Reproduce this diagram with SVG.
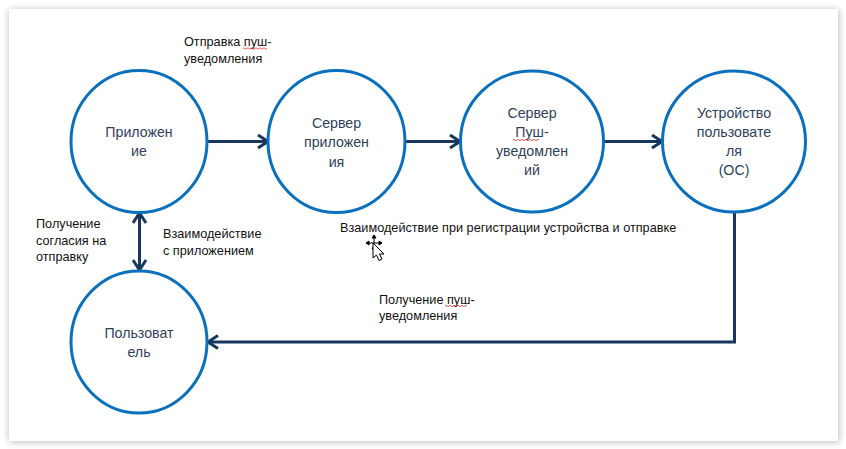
<svg xmlns="http://www.w3.org/2000/svg" width="846" height="449" viewBox="0 0 846 449">
<defs>
<filter id="sh" x="-3%" y="-3%" width="106%" height="106%"><feGaussianBlur stdDeviation="3.5"/></filter>
<marker id="arr" markerUnits="userSpaceOnUse" markerWidth="14" markerHeight="16" refX="12" refY="8" orient="auto-start-reverse" viewBox="0 0 14 16"><path d="M2,1.500 L12,8 L2,14.500" fill="none" stroke="#17375e" stroke-width="3"/></marker>
</defs>
<style>
text{font-family:"Liberation Sans","Noto Sans",sans-serif}
.n{fill:#fff;stroke:#0a70bd;stroke-width:3}
.nt{font-size:14.200px;fill:#2f3f5a;text-anchor:middle}
.lb{font-size:12.700px;fill:#111}
.c{fill:none;stroke:#17375e;stroke-width:3}
.w{fill:none;stroke:#e0302a;stroke-width:.8}
</style>
<rect width="846" height="449" fill="#fff"/>
<rect x="9" y="10" width="830" height="432" fill="#8a8a8a" opacity=".6" filter="url(#sh)"/>
<rect x="9" y="9" width="829" height="432" fill="#fff"/>
<g id="connectors">
<path class="c" d="M207,141.500H268" marker-end="url(#arr)"/>
<path class="c" d="M405,141.500H460" marker-end="url(#arr)"/>
<path class="c" d="M604,141.500H662" marker-end="url(#arr)"/>
<path class="c" d="M139.500,213V270" marker-start="url(#arr)" marker-end="url(#arr)"/>
<path class="c" d="M734.500,212V342H208" marker-end="url(#arr)"/>
</g>
<g id="n1"><ellipse class="n" cx="139" cy="141.500" rx="68" ry="71"/><text class="nt" x="139" y="137">Приложен</text><text class="nt" x="139" y="156">ие</text></g>
<g id="n2"><ellipse class="n" cx="336.500" cy="141.500" rx="68.500" ry="71"/><text class="nt" x="336.500" y="128">Сервер</text><text class="nt" x="336.500" y="147">приложен</text><text class="nt" x="336.500" y="167">ия</text></g>
<g id="n3"><ellipse class="n" cx="532" cy="141.500" rx="71.500" ry="70.500"/><text class="nt" x="532" y="118">Сервер</text><text class="nt" x="532" y="137">Пуш-</text><text class="nt" x="532" y="156">уведомлен</text><text class="nt" x="532" y="175">ий</text><path class="w" d="M513,140q1,-1.500 2,0t2,0t2,0t2,0t2,0t2,0t2,0t2,0t2,0t2,0t2,0t2,0t2,0"/></g>
<g id="n4"><ellipse class="n" cx="734" cy="141.500" rx="71.500" ry="70.500"/><text class="nt" x="734" y="118">Устройство</text><text class="nt" x="734" y="137">пользовате</text><text class="nt" x="734" y="156">ля</text><text class="nt" x="734" y="175">(ОС)</text></g>
<g id="n5"><ellipse class="n" cx="139" cy="342" rx="68" ry="71"/><text class="nt" x="139" y="338">Пользоват</text><text class="nt" x="139" y="357">ель</text></g>
<g id="labels">
<text class="lb" x="184" y="46">Отправка пуш-</text><text class="lb" x="184" y="63">уведомления</text>
<path class="w" d="M243,48.500q1,-1.500 2,0t2,0t2,0t2,0t2,0t2,0t2,0t2,0t2,0t2,0t2,0t2,0"/>
<text class="lb" x="36" y="228">Получение</text><text class="lb" x="36" y="245">согласия на</text><text class="lb" x="36" y="261">отправку</text>
<text class="lb" x="163" y="238">Взаимодействие</text><text class="lb" x="163" y="255">с приложением</text>
<text class="lb" x="340" y="232">Взаимодействие при регистрации устройства и отправке</text>
<text class="lb" x="379" y="304">Получение пуш-</text><text class="lb" x="379" y="320">уведомления</text>
<path class="w" d="M445,306q1,-1.500 2,0t2,0t2,0t2,0t2,0t2,0t2,0t2,0t2,0t2,0t2,0"/>
</g>
<g id="cursor">
<path d="M374,235V250M366,243H382M374,235l-2,3h4zM374,251l-2,-3h4zM366,243l3,-2v4zM382,243l-3,-2v4z" fill="#000" stroke="#000" stroke-width="1"/>
<path d="M373,243V258l3.500,-3 2.500,5.500 3,-1.500 -2.500,-5h4.500z" fill="#fff" stroke="#000" stroke-width="1"/>
</g>
</svg>
